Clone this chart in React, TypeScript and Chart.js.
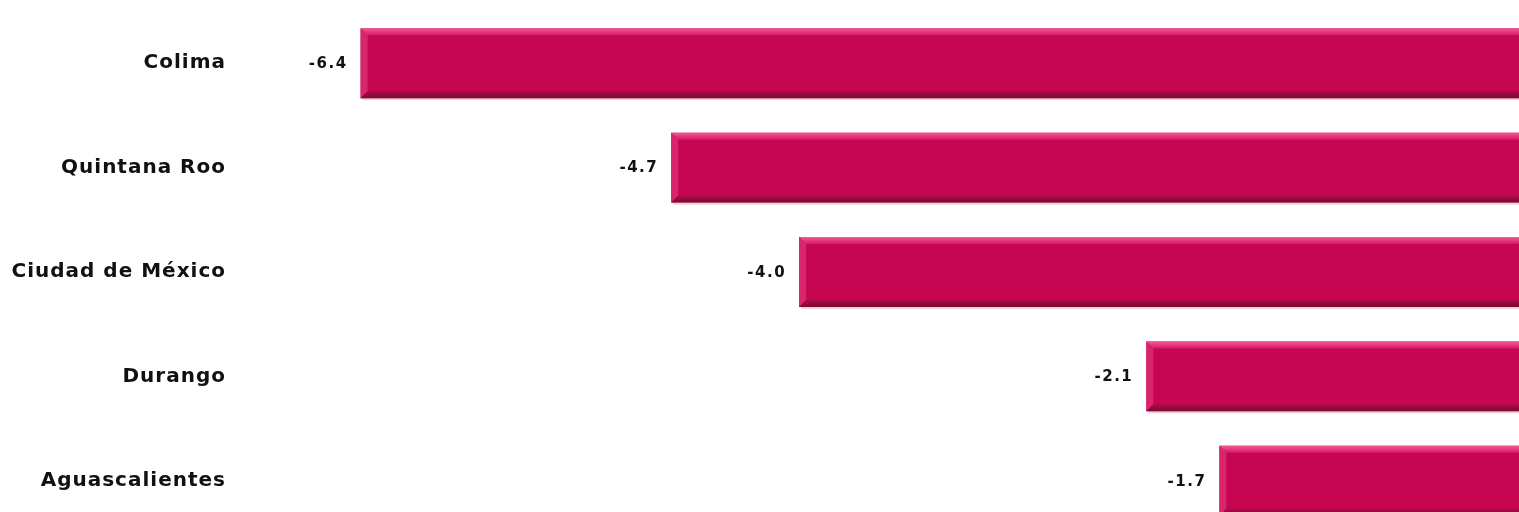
import React, { useEffect, useRef } from "react";
import { Chart, registerables } from "chart.js";

Chart.register(...registerables);

const categories = ["Colima", "Quintana Roo", "Ciudad de México", "Durango", "Aguascalientes"];
const values = [-6.4, -4.7, -4.0, -2.1, -1.7];

const spacingPlugin = {
  id: "spacing",
  beforeDraw(chart: any) {
    chart.ctx.letterSpacing = "1px";
  },
};

const bevelPlugin = {
  id: "bevel",
  afterDatasetsDraw(chart: any) {
    const ctx = chart.ctx;
    const meta = chart.getDatasetMeta(0);
    meta.data.forEach((bar: any, i: number) => {
      const { x, y, base, height } = bar.getProps(["x", "y", "base", "height"], true);
      const left = Math.min(x, base);
      const right = Math.max(x, base);
      const top = y - height / 2;
      const bottom = y + height / 2;
      const b = 7;
      ctx.save();
      const gt = ctx.createLinearGradient(0, top, 0, top + b);
      gt.addColorStop(0, "#F25A95");
      gt.addColorStop(1, "#D91867");
      ctx.fillStyle = gt;
      ctx.beginPath();
      ctx.moveTo(left, top);
      ctx.lineTo(right, top);
      ctx.lineTo(right, top + b);
      ctx.lineTo(left + b, top + b);
      ctx.closePath();
      ctx.fill();
      ctx.fillStyle = "#D9256C";
      ctx.beginPath();
      ctx.moveTo(left, top);
      ctx.lineTo(left + b, top + b);
      ctx.lineTo(left + b, bottom - b);
      ctx.lineTo(left, bottom);
      ctx.closePath();
      ctx.fill();
      const gb = ctx.createLinearGradient(0, bottom - b, 0, bottom);
      gb.addColorStop(0, "#AE0B47");
      gb.addColorStop(1, "#7A0A33");
      ctx.fillStyle = gb;
      ctx.beginPath();
      ctx.moveTo(left, bottom);
      ctx.lineTo(right, bottom);
      ctx.lineTo(right, bottom - b);
      ctx.lineTo(left + b, bottom - b);
      ctx.closePath();
      ctx.fill();
      ctx.fillStyle = "rgba(200,120,150,0.35)";
      ctx.fillRect(left + 2, bottom, right - left, 2);
      ctx.fillStyle = "#111";
      ctx.letterSpacing = "1.5px";
      ctx.font = "bold 15px 'DejaVu Sans', sans-serif";
      ctx.textAlign = "right";
      ctx.textBaseline = "middle";
      ctx.fillText(values[i].toFixed(1), left - 13, y + 1);
      ctx.restore();
    });
  },
};

export default function App() {
  const ref = useRef<HTMLCanvasElement | null>(null);
  useEffect(() => {
    if (!ref.current) return;
    const chart = new Chart(ref.current, {
      type: "bar",
      data: {
        labels: categories,
        datasets: [
          {
            data: values,
            backgroundColor: "#C70651",
            borderWidth: 0,
            barPercentage: 0.67,
            categoryPercentage: 1,
          },
        ],
      },
      options: {
        indexAxis: "y",
        animation: false,
        responsive: false,
        maintainAspectRatio: false,
        layout: { padding: { top: 11, bottom: 13, left: 0, right: 0 } },
        plugins: { legend: { display: false }, tooltip: { enabled: false } },
        scales: {
          x: {
            display: false,
            min: -7.06,
            max: 0,
          },
          y: {
            grid: { display: false },
            border: { display: false },
            afterFit: (s: any) => {
              s.width = 240;
            },
            ticks: {
              padding: 6,
              color: "#111",
              font: { family: "'DejaVu Sans', sans-serif", weight: "bold", size: 20 },
            },
          },
        },
      },
      plugins: [spacingPlugin, bevelPlugin],
    });
    return () => chart.destroy();
  }, []);
  return (
    <div style={{ position: "fixed", left: 0, top: -7, width: 1530, height: 558, background: "#fff" }}>
      <canvas ref={ref} width={1530} height={558} style={{ width: 1530, height: 558 }} />
    </div>
  );
}
